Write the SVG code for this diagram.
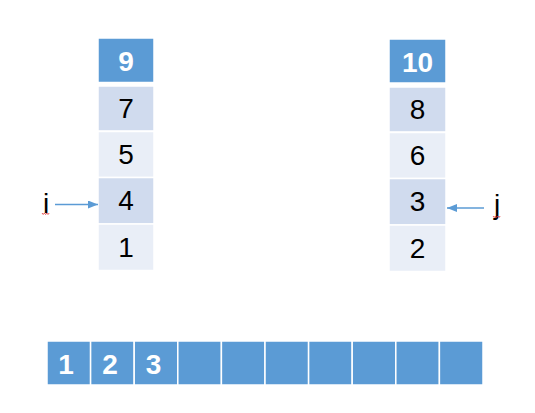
<svg xmlns="http://www.w3.org/2000/svg" width="535" height="413" viewBox="0 0 535 413">
<defs>
<style>
.hd{fill:#5B9BD5;stroke:#fff;stroke-width:1.5}
.dk{fill:#D0DBEE;stroke:#fff;stroke-width:1.5}
.lt{fill:#E9EEF7;stroke:#fff;stroke-width:1.5}
.bx{fill:#5B9BD5;stroke:#fff;stroke-width:1.5}
.num{font-family:"Liberation Sans",Arial,sans-serif;font-size:28px;fill:#000;text-anchor:middle}
.wb{font-family:"Liberation Sans",Arial,sans-serif;font-size:28px;font-weight:bold;fill:#fff;text-anchor:middle}
.lbl{font-family:"Liberation Sans",Arial,sans-serif;font-size:28px;fill:#000;text-anchor:middle}
.sq{fill:none;stroke:#E03030;stroke-width:0.8}
.ar{stroke:#5B9BD5;stroke-width:1.3;fill:none}
</style>
<marker id="ah" viewBox="0 0 10 8" refX="10" refY="4" markerWidth="10" markerHeight="8" markerUnits="userSpaceOnUse" orient="auto">
<path d="M0,0 L10,4 L0,8 Z" fill="#5B9BD5"/>
</marker>
</defs>

<g id="left-column">
<g id="L9"><rect class="hd" x="98" y="38" width="56" height="44.5"/><text class="wb" x="126" y="71">9</text></g>
<g id="L7"><rect class="dk" x="98" y="86" width="56" height="45"/><text class="num" x="126" y="118">7</text></g>
<g id="L5"><rect class="lt" x="98" y="131.5" width="56" height="46"/><text class="num" x="126" y="164">5</text></g>
<g id="L4"><rect class="dk" x="98" y="177.5" width="56" height="46.5"/><text class="num" x="126" y="210">4</text></g>
<g id="L1"><rect class="lt" x="98" y="224" width="56" height="46.5"/><text class="num" x="126" y="257">1</text></g>
</g>

<g id="right-column">
<g id="R10"><rect class="hd" x="389" y="39" width="57" height="44"/><text class="wb" x="417.5" y="72">10</text></g>
<g id="R8"><rect class="dk" x="389" y="87" width="57" height="45"/><text class="num" x="417.5" y="119">8</text></g>
<g id="R6"><rect class="lt" x="389" y="132.5" width="57" height="46"/><text class="num" x="417.5" y="165">6</text></g>
<g id="R3"><rect class="dk" x="389" y="178.5" width="57" height="46.5"/><text class="num" x="417.5" y="211">3</text></g>
<g id="R2"><rect class="lt" x="389" y="225" width="57" height="46.5"/><text class="num" x="417.5" y="258">2</text></g>
</g>

<g id="merged-array">
<rect class="bx" x="47" y="341" width="43.6" height="44"/>
<rect class="bx" x="90.6" y="341" width="43.6" height="44"/>
<rect class="bx" x="134.2" y="341" width="43.6" height="44"/>
<rect class="bx" x="177.8" y="341" width="43.6" height="44"/>
<rect class="bx" x="221.4" y="341" width="43.6" height="44"/>
<rect class="bx" x="265" y="341" width="43.6" height="44"/>
<rect class="bx" x="308.6" y="341" width="43.6" height="44"/>
<rect class="bx" x="352.2" y="341" width="43.6" height="44"/>
<rect class="bx" x="395.8" y="341" width="43.6" height="44"/>
<rect class="bx" x="439.4" y="341" width="43.6" height="44"/>
<text class="wb" x="66" y="374">1</text>
<text class="wb" x="110" y="374">2</text>
<text class="wb" x="153.5" y="374">3</text>
</g>

<g id="label-i">
<text class="lbl" x="46" y="213">i</text>
<path class="sq" d="M42,213 l1.2,1.5 l1.2,-1.5 l1.2,1.5 l1.2,-1.5 l1.2,1.5 l1.2,-1.5"/>
</g>
<g id="label-j">
<text class="lbl" x="497" y="214">j</text>
<path class="sq" d="M493,216 l1.2,1.5 l1.2,-1.5 l1.2,1.5 l1.2,-1.5 l1.2,1.5 l1.2,-1.5"/>
</g>

<g id="connectors">
<line class="ar" x1="55" y1="204.5" x2="98" y2="204.5" marker-end="url(#ah)"/>
<line class="ar" x1="484" y1="208" x2="447" y2="208" marker-end="url(#ah)"/>
</g>
</svg>
